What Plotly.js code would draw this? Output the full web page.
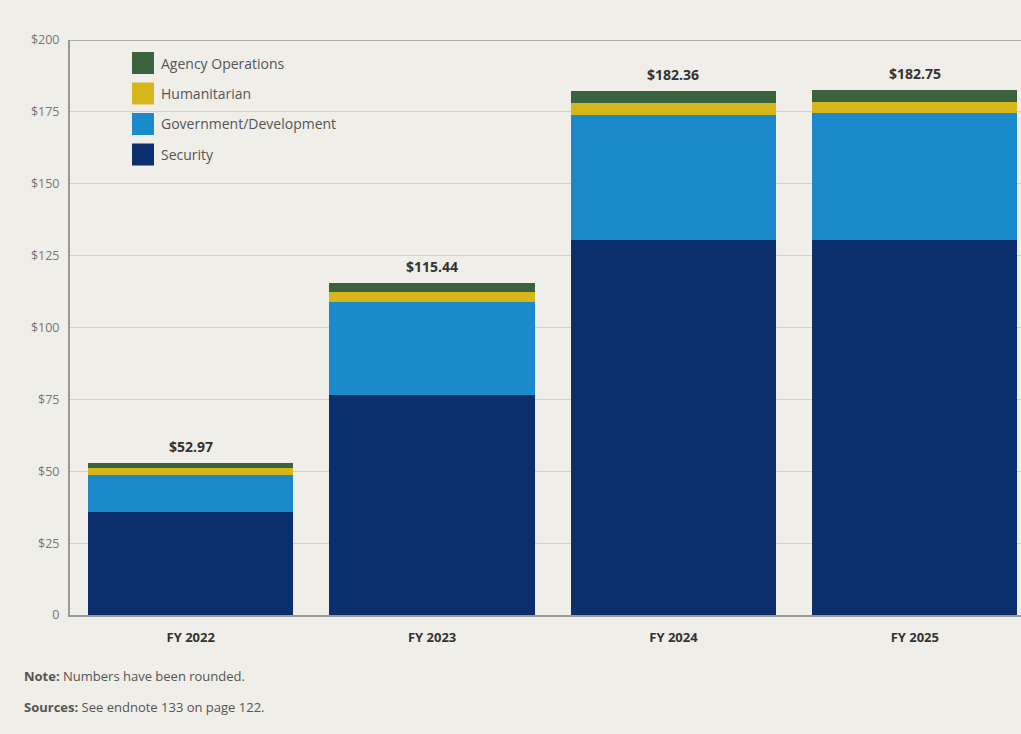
<!DOCTYPE html>
<html>
<head>
<meta charset="utf-8">
<script src="https://cdn.plot.ly/plotly-3.0.1.min.js"></script>
<style>
html,body{margin:0;padding:0;background:#efeee8;}
#chart{width:1021px;height:734px;}
</style>
</head>
<body>
<div id="chart"></div>
<script>
const categories = ["FY 2022", "FY 2023", "FY 2024", "FY 2025"];
const security = [35.9, 76.5, 130.4, 130.4];
const government = [12.8, 32.5, 43.5, 44.1];
const humanitarian = [2.3, 3.5, 4.3, 4.0];
const agency = [1.97, 2.94, 4.16, 4.25];
const totals = [52.97, 115.44, 182.36, 182.75];
const totalLabels = ["$52.97", "$115.44", "$182.36", "$182.75"];
const tickVals = [0, 25, 50, 75, 100, 125, 150, 175, 200];
const tickText = ["0", "$25", "$50", "$75", "$100", "$125", "$150", "$175", "$200"];
const seriesNames = ["Agency Operations", "Humanitarian", "Government/Development", "Security"];
const seriesColors = ["#3a623c", "#d6b619", "#1a8aca", "#0a2f6c"];

const FONT = "Open Sans, Noto Sans, sans-serif";

function bar(name, y, color) {
  return {type: "bar", name: name, x: categories, y: y,
    marker: {color: color, line: {width: 0}}, hoverinfo: "y", showlegend: false};
}
const traces = [
  bar("Security", security, seriesColors[3]),
  bar("Government/Development", government, seriesColors[2]),
  bar("Humanitarian", humanitarian, seriesColors[1]),
  bar("Agency Operations", agency, seriesColors[0])
];

const annotations = categories.map((c, i) => ({
  x: c, y: totals[i], xref: "x", yref: "y", text: "<b>" + totalLabels[i] + "</b>",
  showarrow: false, yanchor: "bottom", yshift: 5,
  font: {family: FONT, size: 14, color: "#333"}
}));

const shapes = [];
// custom legend
const legTop = 52, legStep = 30.5, sq = 22, legX = 132;
seriesNames.forEach((n, i) => {
  const y0 = legTop + i * legStep;
  shapes.push({type: "rect", xref: "paper", yref: "paper",
    x0: (legX - 70) / 951, x1: (legX + sq - 70) / 951,
    y0: 1 - (y0 + sq - 40) / 575, y1: 1 - (y0 - 40) / 575,
    fillcolor: seriesColors[i], line: {width: 0}, layer: "above"});
  annotations.push({xref: "paper", yref: "paper",
    x: (legX + sq + 5 - 70) / 951, y: 1 - (y0 + sq / 2 - 40) / 575,
    xanchor: "left", yanchor: "middle", showarrow: false,
    text: n, font: {family: FONT, size: 14, color: "#555"}});
});
// notes
annotations.push({xref: "paper", yref: "paper", x: -48 / 951, y: -(676 - 615) / 575,
  xanchor: "left", yanchor: "middle", showarrow: false, align: "left",
  text: "<b>Note:</b> Numbers have been rounded.", font: {family: FONT, size: 13, color: "#555"}});
annotations.push({xref: "paper", yref: "paper", x: -48 / 951, y: -(707 - 615) / 575,
  xanchor: "left", yanchor: "middle", showarrow: false, align: "left",
  text: "<b>Sources:</b> See endnote 133 on page 122.", font: {family: FONT, size: 13, color: "#555"}});

const layout = {
  width: 1021, height: 734,
  margin: {l: 70, r: 0, t: 40, b: 119, pad: 0},
  paper_bgcolor: "#efeee8", plot_bgcolor: "#efeee8",
  barmode: "stack", bargap: 0.15,
  showlegend: false,
  xaxis: {type: "category", range: [-0.5, 3.44], showgrid: false, zeroline: false,
    showline: true, linecolor: "#999", linewidth: 2, ticks: "",
    ticklabelstandoff: 9,
    tickfont: {family: FONT, size: 13, color: "#333", weight: "bold"},
    fixedrange: true},
  yaxis: {range: [0, 200], tickvals: tickVals, ticktext: tickText,
    showgrid: true, gridcolor: "#d2d0cb", gridwidth: 1, zeroline: false,
    showline: true, linecolor: "#999", linewidth: 2, ticks: "",
    ticklabelstandoff: 6,
    tickfont: {family: FONT, size: 12.5, color: "#777"}},
  annotations: annotations,
  shapes: shapes.concat([{type: "line", xref: "paper", yref: "y", x0: 0, x1: 1, y0: 200, y1: 200,
    line: {color: "#999", width: 1.5}}])
};

Plotly.newPlot("chart", traces, layout, {displayModeBar: false, staticPlot: true});
</script>
</body>
</html>
